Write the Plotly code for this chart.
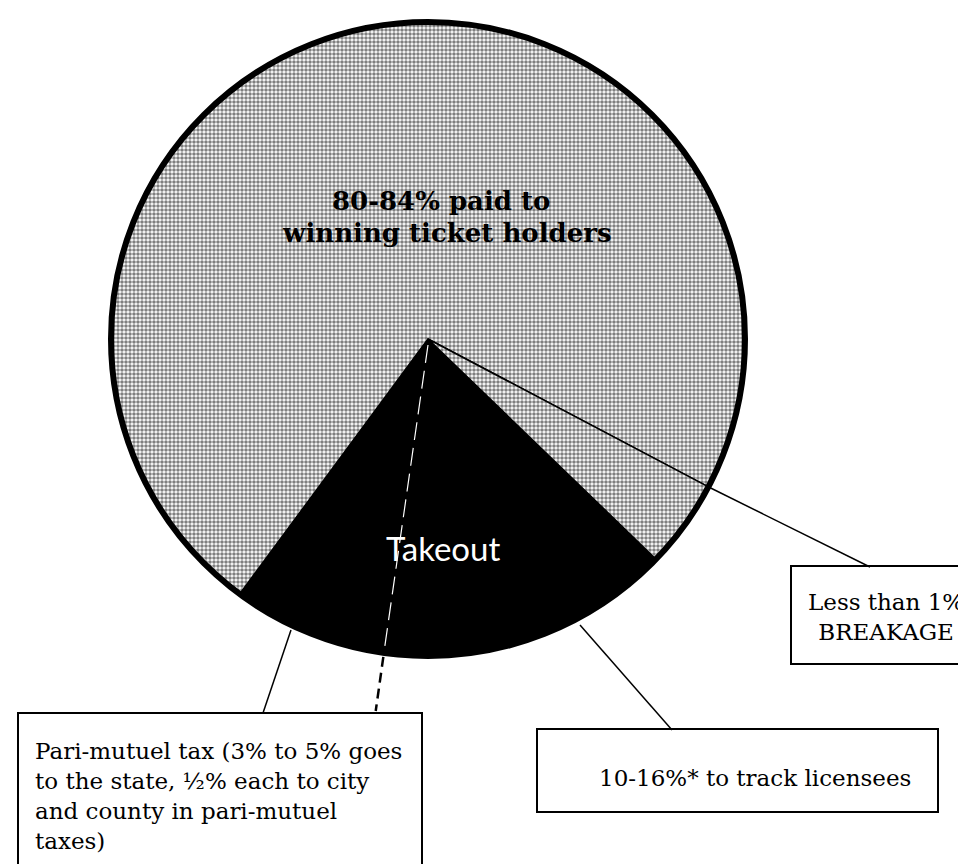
import math
import plotly.graph_objects as go

W, H = 966, 864

# ---------------- data ----------------
# share of the drawn circle, clockwise starting at the right edge of the black takeout wedge
slice_labels = ["Track licensees", "Pari-mutuel tax", "Winning ticket holders", "Breakage"]
slice_values = [15.0, 7.9, 72.6, 4.5]
start_angle = 134.0  # degrees clockwise from 12 o'clock

label_main = ["80-84% paid to", "winning ticket holders"]
label_takeout = "Takeout"
label_tax = ["Pari-mutuel tax (3% to 5% goes", "to the state, ½% each to city",
             "and county in pari-mutuel", "taxes)"]
label_breakage = ["Less than 1%", "BREAKAGE"]
label_licensees = "10-16%* to track licensees"

# ---------------- styling / layout ----------------
CX, CY, R = 420.0, 331.0, 317.0   # pie centre and radius in pixels
OUTLINE = 6
SERIF = "DejaVu Serif"


def px(x):
    return x / W


def py(y):
    return 1 - y / H


def rim(angle_deg, r):
    a = math.radians(angle_deg)
    return CX + r * math.sin(a), CY - r * math.cos(a)


total = sum(slice_values)


def boundary(i):
    return start_angle + 360.0 * sum(slice_values[:i]) / total


domain = dict(x=[px(CX - R), px(CX + R)], y=[py(CY + R), py(CY - R)])

fig = go.Figure()
fig.add_trace(go.Pie(
    labels=slice_labels,
    values=slice_values,
    sort=False,
    direction="clockwise",
    rotation=start_angle,
    domain=domain,
    textinfo="none",
    hoverinfo="label+percent",
    marker=dict(
        colors=["black", "black", "white", "white"],
        line=dict(color="black", width=1.6),
        pattern=dict(shape=["", "", ".", "."],
                     fgcolor=["black", "black", "black", "black"],
                     bgcolor=["black", "black", "white", "white"],
                     size=4, solidity=0.62, fillmode="overlay"),
    ),
    showlegend=False,
))
# thick outer outline
fig.add_trace(go.Pie(
    values=[1], labels=["outline"], sort=False, domain=domain, textinfo="none",
    hoverinfo="skip", showlegend=False,
    marker=dict(colors=["rgba(0,0,0,0)"], line=dict(color="black", width=OUTLINE)),
))

shapes = []


def line(x0, y0, x1, y1, color="black", width=1.5, dash="solid"):
    shapes.append(dict(type="line", xref="paper", yref="paper",
                       x0=px(x0), y0=py(y0), x1=px(x1), y1=py(y1),
                       line=dict(color=color, width=width, dash=dash)))


def rect(x0, y0, x1, y1):
    shapes.append(dict(type="rect", xref="paper", yref="paper",
                       x0=px(x0), y0=py(y0), x1=px(x1), y1=py(y1),
                       line=dict(color="black", width=2), fillcolor="rgba(0,0,0,0)"))


# division of the takeout (licensees | tax)
split = boundary(1)
ix, iy = rim(split, R - 3)
line(CX, CY + 6, ix, iy, color="white", width=1.2, dash="18px,8px")
ox, oy = rim(split, R + 4)
a = math.radians(split)
t = (703 - CY) / (-math.cos(a))
line(ox, oy, CX + t * math.sin(a), 703, width=2.5, dash="10px,6px")

# breakage leader
bx, by = rim(boundary(3), R + 2)
line(bx, by, 862, 559, width=1.5)
# tax leader
line(283, 622, 255, 705, width=1.5)
# licensees leader
line(572, 617, 664, 722, width=1.5)

# boxes
rect(783, 558, 980, 656)
rect(529, 721, 930, 804)
rect(10, 705, 414, 862)

annotations = []


def text(x, y, s, size, family=SERIF, color="black", xanchor="center", align="center", weight="normal"):
    annotations.append(dict(x=px(x), y=py(y), xref="paper", yref="paper", text=s,
                            showarrow=False, xanchor=xanchor, yanchor="middle", align=align,
                            font=dict(family=family, size=size, color=color, weight=weight)))


text(433, 193, label_main[0], 26, weight="bold")
text(439, 225, label_main[1], 26, weight="bold")
text(435, 540, label_takeout, 33, family="Lato", color="white")
text(878, 609, "<br>".join(label_breakage), 23)
text(747, 770, label_licensees, 23)
text(25, 788, "<br>".join(label_tax), 23, xanchor="left", align="left")

fig.update_layout(
    width=W, height=H,
    margin=dict(l=0, r=0, t=0, b=0),
    paper_bgcolor="white", plot_bgcolor="white",
    showlegend=False,
    shapes=shapes,
    annotations=annotations,
)

fig.write_html("out.html")
